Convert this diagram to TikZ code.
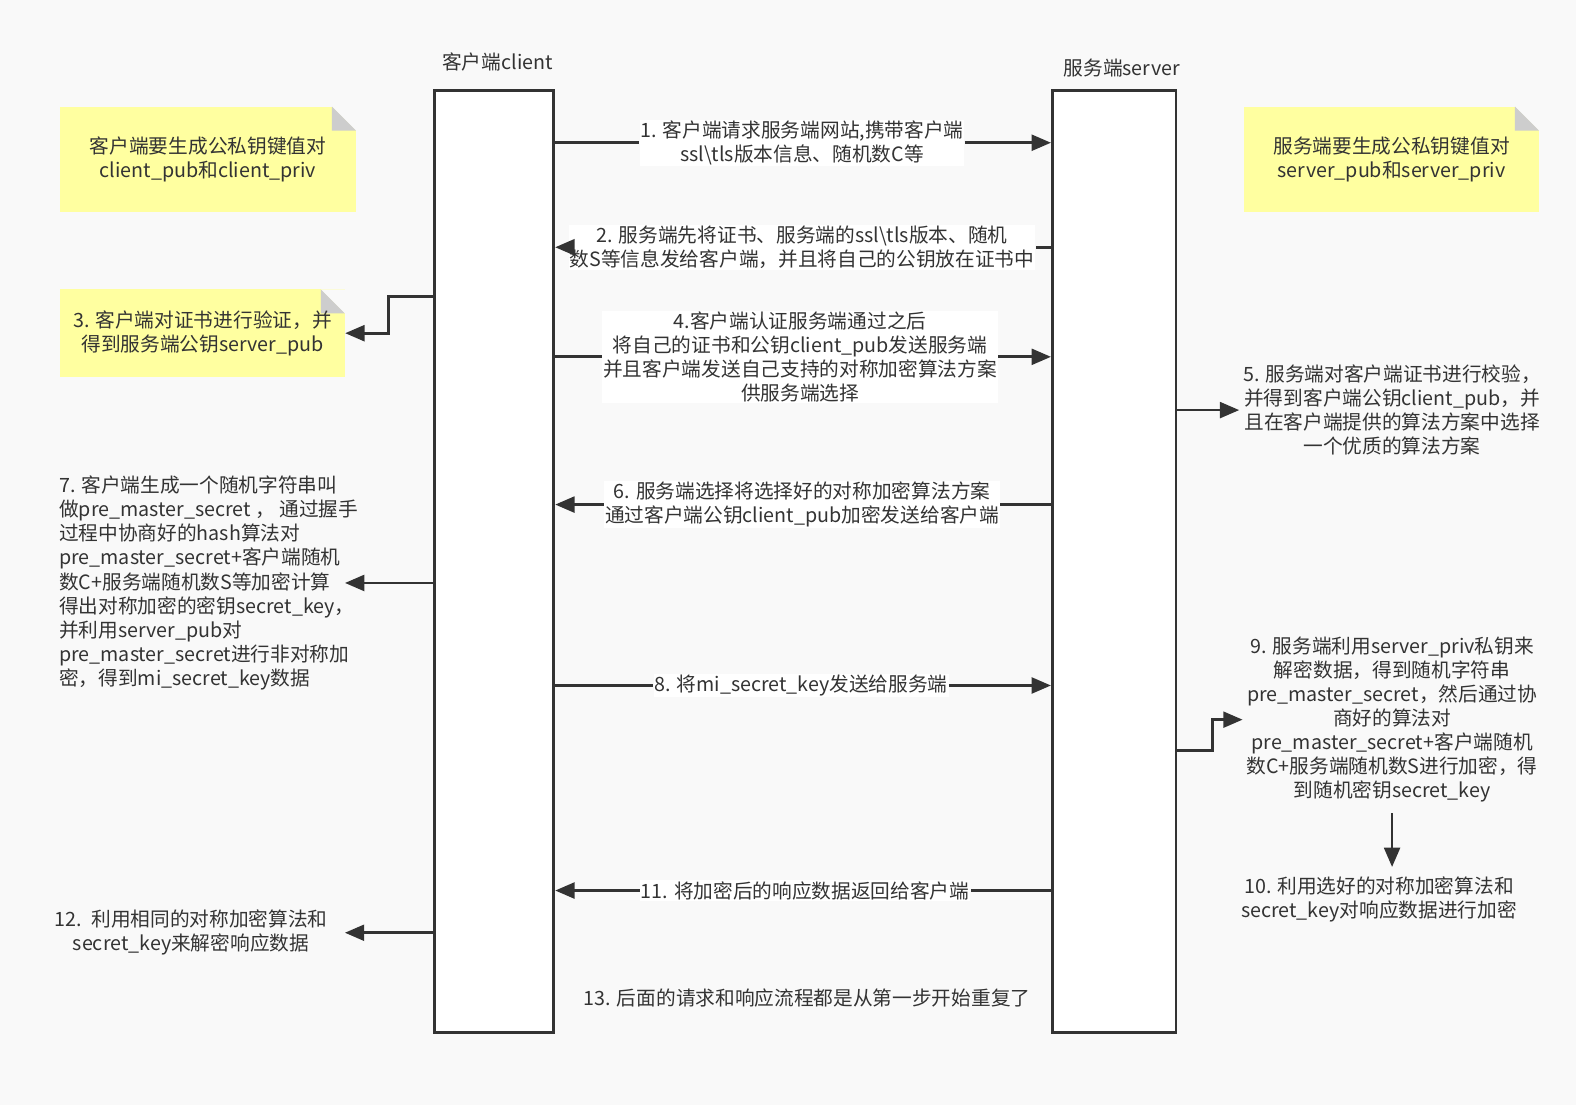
\documentclass[tikz,border=0pt]{standalone}
\usepackage{fontspec}
\setmainfont{Noto Sans CJK SC}
\usepackage{tikz}
\usetikzlibrary{positioning,arrows.meta,calc}
\usepackage{xcolor}
\definecolor{bggrey}{RGB}{249,249,249}
\definecolor{linegrey}{RGB}{51,51,51}
\definecolor{noteyellow}{RGB}{255,255,160}
\definecolor{foldgrey}{RGB}{205,205,205}
\newcommand{\fsz}{\fontsize{11.2pt}{13.7pt}\selectfont}

\begin{document}
\begin{tikzpicture}[x=0.0201cm,y=-0.0201cm,
  box/.style={draw=linegrey,line width=1.6pt,fill=white,inner sep=0pt},
  msg/.style={draw=linegrey,line width=1.6pt,-{Triangle[length=11pt,width=9pt]}},
  lbl/.style={fill=white,inner sep=0.5pt,align=center,font=\fsz,text=linegrey},
  txt/.style={inner sep=2pt,align=center,font=\fsz,text=linegrey},
  note/.style={fill=noteyellow,inner sep=0pt,align=center,font=\fsz,text=linegrey,
    path picture={
      \fill[bggrey] (path picture bounding box.north east) -- ++(-0.48cm,0) -- ++(0.48cm,-0.48cm) -- cycle;
      \fill[foldgrey] (path picture bounding box.north east) ++(-0.48cm,0) -- ++(0,-0.48cm) -- ++(0.48cm,0) -- cycle;
    }}]
% canvas
\fill[bggrey] (0,0) rectangle (1568,1099);
\useasboundingbox (0,0) rectangle (1568,1099);
% lifelines
\node[box,minimum width=2.39cm,minimum height=18.83cm] (client) at (491.5,558.5) {};
\node[box,minimum width=2.47cm,minimum height=18.83cm] (server) at (1108.5,558.5) {};
\node[txt] (clientname) at (495,62) {客户端client};
\node[txt] (servername) at (1116,68) {服务端server};
% key pair notes
\node[note,minimum width=5.91cm,minimum height=2.11cm] (cnote) at (207,158.5) {客户端要生成公私钥键值对\\client\_pub和client\_priv};
\node[note,minimum width=5.89cm,minimum height=2.11cm] (snote) at (1384.5,158.5) {服务端要生成公私钥键值对\\server\_pub和server\_priv};
% 1
\node[lbl] (m1) at (798,142) {1. 客户端请求服务端网站,携带客户端\\ssl\textbackslash tls版本信息、随机数C等};
\draw[msg] (client.east |- m1) -- (m1.west) (m1.east) -- (server.west |- m1);
% 2
\node[lbl] (m2) at (798,246) {2. 服务端先将证书、服务端的ssl\textbackslash tls版本、随机\\数S等信息发给客户端，并且将自己的公钥放在证书中};
\draw[msg] (server.west |- m2) -- (m2.east) (m2.west) -- (client.east |- m2);
% 3
\node[note,minimum width=5.69cm,minimum height=1.75cm] (note3) at (201.5,331.5) {3. 客户端对证书进行验证，并\\得到服务端公钥server\_pub};
\draw[msg] (client.west |- 0,295) -- ++(-44,0) |- (note3.east);
% 4
\node[lbl] (m4) at (796,355) {4.客户端认证服务端通过之后\\将自己的证书和公钥client\_pub发送服务端\\并且客户端发送自己支持的对称加密算法方案\\供服务端选择};
\draw[msg] (client.east |- m4) -- (m4.west) (m4.east) -- (server.west |- m4);
% 5
\node[txt] (t5) at (1385,408) {5. 服务端对客户端证书进行校验，\\并得到客户端公钥client\_pub，并\\且在客户端提供的算法方案中选择\\一个优质的算法方案};
\draw[msg] (server.east |- t5) -- (t5.west);
% 6
\node[lbl] (m6) at (798,502) {6. 服务端选择将选择好的对称加密算法方案\\通过客户端公钥client\_pub加密发送给客户端};
\draw[msg] (server.west |- m6) -- (m6.east) (m6.west) -- (client.east |- m6);
% 7
\node[txt,align=left,anchor=west] (t7) at (55,580) {7. 客户端生成一个随机字符串叫\\做pre\_master\_secret ， 通过握手\\过程中协商好的hash算法对\\pre\_master\_secret+客户端随机\\数C+服务端随机数S等加密计算\\得出对称加密的密钥secret\_key，\\并利用server\_pub对\\pre\_master\_secret进行非对称加\\密，得到mi\_secret\_key数据};
\draw[msg] (client.west |- t7.east) -- ([xshift=-0.34cm]t7.east);
% 8
\node[lbl] (m8) at (797,682) {8. 将mi\_secret\_key发送给服务端};
\draw[msg] (client.east |- m8) -- (m8.west) (m8.east) -- (server.west |- m8);
% 9
\node[txt] (t9) at (1385,716) {9. 服务端利用server\_priv私钥来\\解密数据，得到随机字符串\\pre\_master\_secret，然后通过协\\商好的算法对\\pre\_master\_secret+客户端随机\\数C+服务端随机数S进行加密，得\\到随机密钥secret\_key};
\draw[msg] (server.east |- 0,747) -- ++(35,0) |- (t9.west);
% 10
\node[txt] (t10) at (1372,895) {10. 利用选好的对称加密算法和\\secret\_key对响应数据进行加密};
\draw[msg,shorten <=0.14cm,shorten >=0.12cm] (t9.south) -- (t9.south |- t10.north);
% 11
\node[lbl] (m11) at (801,886) {11. 将加密后的响应数据返回给客户端};
\draw[msg] (server.west |- m11) -- (m11.east) (m11.west) -- (client.east |- m11);
% 12
\node[txt,text width=6cm] (t12) at (190,928) {12. 利用相同的对称加密算法和\\secret\_key来解密响应数据};
\draw[msg] (client.west |- t12) -- (t12.east);
% 13
\node[txt] (t13) at (803,993) {13. 后面的请求和响应流程都是从第一步开始重复了};
\end{tikzpicture}
\end{document}
